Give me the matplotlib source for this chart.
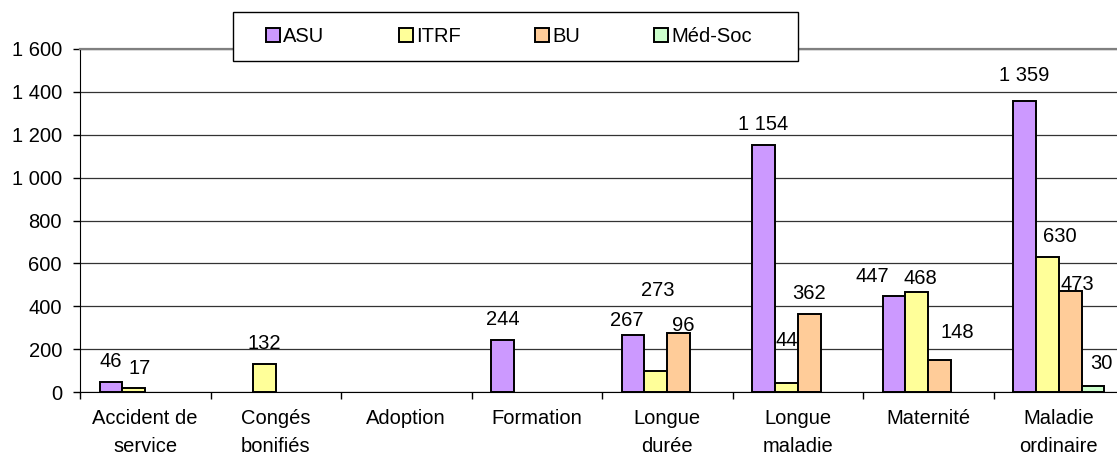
import numpy as np
import matplotlib
matplotlib.use("Agg")
import matplotlib.pyplot as plt
from matplotlib.patches import Patch, Rectangle

plt.rcParams['font.family'] = ['Liberation Sans', 'DejaVu Sans']
plt.rcParams['font.size'] = 14.5

categories = ["Accident de\nservice", "Congés\nbonifiés", "Adoption", "Formation",
              "Longue\ndurée", "Longue\nmaladie", "Maternité", "Maladie\nordinaire"]
series_names = ["ASU", "ITRF", "BU", "Méd-Soc"]
asu = [46, None, None, 244, 267, 1154, 447, 1359]
itrf = [17, 132, None, None, 96, 44, 468, 630]
bu = [None, None, None, None, 273, 362, 148, 473]
med_soc = [None, None, None, None, None, None, None, 30]
colors = ["#CC99FF", "#FFFF99", "#FFCC99", "#CCFFCC"]

# labels moved by hand in the original (pixels: dx, height of baseline above bar)
label_moves = {
    (1, 0): (6, 14),
    (0, 4): (-6, 9), (1, 4): (27, 40), (2, 4): (-21, 37),
    (1, 5): (0, 37),
    (0, 6): (-22, 14), (1, 6): (4, 8), (2, 6): (18, 22),
    (0, 7): (0, 20), (1, 7): (12, 15), (2, 7): (7, 1), (3, 7): (8, 17),
}

def fmt(v):
    return f"{v:,.0f}".replace(",", " ")

fig = plt.figure(figsize=(11.17, 4.57), dpi=100)
ax = fig.add_axes([80 / 1117, 65 / 457, 1044 / 1117, 343 / 457])

x = np.arange(len(categories))
width = 0.175
all_series = [asu, itrf, bu, med_soc]
for i, vals in enumerate(all_series):
    pos = x + (i - 1.5) * width
    h = np.array([np.nan if v is None else v for v in vals], dtype=float)
    ax.bar(pos, h, width, color=colors[i], edgecolor="black", linewidth=1.4, zorder=3)
    for j, v in enumerate(vals):
        if v is None:
            continue
        dx, dy = label_moves.get((i, j), (0, 15))
        ax.annotate(fmt(v), (pos[j], v), xytext=(dx, dy), textcoords="offset pixels",
                    ha="center", va="baseline", zorder=4)

ax.set_xlim(-0.5, len(categories) - 0.5)
ax.set_ylim(0, 1600)
ax.set_yticks(range(0, 1601, 200))
ax.set_yticklabels([fmt(v) for v in range(0, 1601, 200)])
ax.set_xticks(x)
ax.set_xticklabels(categories, linespacing=1.6)
ax.set_xticks(np.arange(-0.5, len(categories)), minor=True)
ax.tick_params(axis="x", which="major", length=0, pad=12)
ax.tick_params(axis="x", which="minor", length=5, direction="out", width=1)
ax.tick_params(axis="y", length=5, direction="out", width=1, pad=8)

ax.grid(axis="y", color="#333333", linewidth=0.9, zorder=0)
ax.set_axisbelow(True)
ax.spines["right"].set_visible(False)
ax.spines["top"].set_color("#808080")
ax.spines["top"].set_linewidth(1.6)
ax.spines["left"].set_color("black")
ax.spines["bottom"].set_color("black")

fig.patches.append(Rectangle((233 / 1117, 1 - 61 / 457), 565 / 1117, 49 / 457,
                             transform=fig.transFigure, facecolor="white",
                             edgecolor="black", linewidth=1.0, zorder=2))
handles = [Patch(facecolor=c, edgecolor="black", linewidth=1.4) for c in colors]
fig.legend(handles, series_names, ncol=4, frameon=False, loc="center",
           bbox_to_anchor=(509 / 1117, 1 - 36.5 / 457),
           handlelength=0.7, handleheight=0.7, handletextpad=0.15,
           columnspacing=3.7)

fig.savefig("out.png", dpi=100)
